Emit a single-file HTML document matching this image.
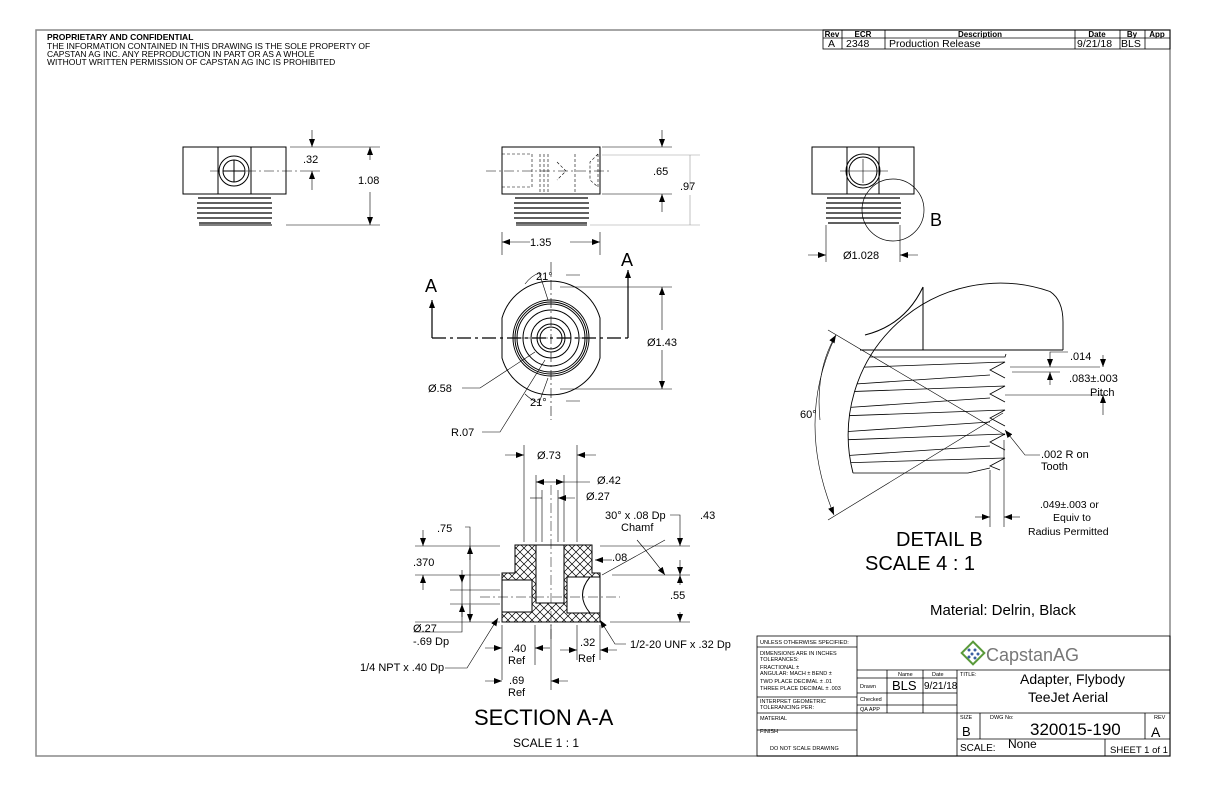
<!DOCTYPE html>
<html><head><meta charset="utf-8"><style>
html,body{margin:0;padding:0;background:#fff}
svg{display:block}
text{font-family:"Liberation Sans",sans-serif;fill:#000}
</style></head><body>
<svg width="1224" height="792" viewBox="0 0 1224 792" xmlns="http://www.w3.org/2000/svg">
<defs>
<pattern id="h" width="8" height="8" patternUnits="userSpaceOnUse"><path d="M0 0L8 8M8 0L0 8" stroke="#000" stroke-width="0.7"/></pattern>
<marker id="a" markerWidth="8" markerHeight="6" refX="8" refY="3" orient="auto" markerUnits="userSpaceOnUse"><path d="M0 0L8 3L0 6z" fill="#000"/></marker>
<clipPath id="dc"><circle cx="1000" cy="435" r="152"/></clipPath>
</defs>
<rect width="1224" height="792" fill="#fff"/>
<rect x="36" y="30" width="1134" height="726" fill="none" stroke="#888" stroke-width="1.5"/>

<g font-size="8.5">
<text x="47" y="40" font-weight="bold">PROPRIETARY AND CONFIDENTIAL</text>
<text x="47" y="49">THE INFORMATION CONTAINED IN THIS DRAWING IS THE SOLE PROPERTY OF</text>
<text x="47" y="57">CAPSTAN AG INC. ANY REPRODUCTION IN PART OR AS A WHOLE</text>
<text x="47" y="65">WITHOUT WRITTEN PERMISSION OF CAPSTAN AG INC IS PROHIBITED</text>
</g>

<g stroke="#000" stroke-width="0.8" fill="none">
<rect x="823" y="30" width="347" height="19"/>
<line x1="823" y1="38" x2="1170" y2="38"/>
<line x1="842" y1="30" x2="842" y2="49"/><line x1="885" y1="30" x2="885" y2="49"/>
<line x1="1075" y1="30" x2="1075" y2="49"/><line x1="1120" y1="30" x2="1120" y2="49"/>
<line x1="1145" y1="30" x2="1145" y2="49"/>
</g>
<g font-size="8" font-weight="bold" text-anchor="middle">
<text x="832" y="37">Rev</text><text x="863" y="37">ECR</text><text x="980" y="37">Description</text>
<text x="1097" y="37">Date</text><text x="1132" y="37">By</text><text x="1157" y="37">App</text></g>
<g font-size="10.5"><text x="828" y="47">A</text><text x="846" y="47">2348</text><text x="889" y="47">Production Release</text><text x="1077" y="47">9/21/18</text><text x="1121" y="47">BLS</text></g>

<g stroke="#000" stroke-width="1" fill="none">
<rect x="183" y="147" width="103" height="47"/>
<line x1="218" y1="147" x2="218" y2="194"/><line x1="251" y1="147" x2="251" y2="194"/>
<circle cx="234" cy="171" r="15"/><circle cx="234" cy="171" r="11"/>
<line x1="223" y1="171" x2="245" y2="171"/><line x1="234" y1="160" x2="234" y2="182"/>
<path d="M210 171H300" stroke-width="0.5" stroke-dasharray="10 3 2 3"/>
<g stroke-width="1.3"><path d="M198 198h73M197 203h75M197 208h75M197 213h75M197 218h75M199 223h72"/></g>
<path d="M199 225h73" />
<g stroke-width="0.6">
<line x1="290" y1="147" x2="380" y2="147"/><line x1="286" y1="225" x2="380" y2="225"/>
<line x1="312" y1="130" x2="312" y2="147" marker-end="url(#a)"/><line x1="312" y1="190" x2="312" y2="171" marker-end="url(#a)"/>
<line x1="300" y1="171" x2="320" y2="171"/>
<line x1="370" y1="160" x2="370" y2="147" marker-end="url(#a)"/><line x1="370" y1="192" x2="370" y2="225" marker-end="url(#a)"/>
</g>

<rect x="502" y="147" width="98" height="47"/>
<g stroke-width="0.6" stroke-dasharray="3 2">
<path d="M502 154H532V187H502M540 154V194M544 154V194M548 154V194M557 162L566 171L557 180M575 154V194M598 154V187M598 154L590 162V180L598 187"/>
</g>
<path d="M486 171H612" stroke-width="0.5" stroke-dasharray="10 3 2 3"/>
<g stroke-width="1.3"><path d="M515 198h73M514 203h75M514 208h75M514 213h75M514 218h75M516 223h71"/></g>
<path d="M516 225h71"/>
<g stroke-width="0.6">
<line x1="602" y1="147" x2="672" y2="147"/><line x1="602" y1="194" x2="672" y2="194"/>
<line x1="662" y1="130" x2="662" y2="147" marker-end="url(#a)"/><line x1="662" y1="212" x2="662" y2="194" marker-end="url(#a)"/>
<g stroke="#999"><line x1="602" y1="155" x2="700" y2="155"/><line x1="590" y1="225" x2="700" y2="225"/>
<line x1="690" y1="190" x2="690" y2="155"/><line x1="690" y1="195" x2="690" y2="225"/></g>
<line x1="502" y1="232" x2="502" y2="255"/><line x1="600" y1="232" x2="600" y2="255"/>
<line x1="530" y1="242" x2="502" y2="242" marker-end="url(#a)"/><line x1="570" y1="242" x2="600" y2="242" marker-end="url(#a)"/>
</g>

<path d="M502 318 A51 51 0 0 1 600 318 V358 A51 51 0 0 1 502 358 Z"/>
<circle cx="551" cy="338" r="38"/><circle cx="551" cy="338" r="36"/><circle cx="551" cy="338" r="34"/>
<circle cx="551" cy="338" r="28"/><circle cx="551" cy="338" r="20"/><circle cx="551" cy="338" r="14"/><circle cx="551" cy="338" r="11"/>
<g stroke-width="0.6">
<path d="M551 262V420M520 338H582" stroke-dasharray="10 3 2 3"/>
<path d="M432 338H628" stroke-width="1.2" stroke-dasharray="14 4 3 4"/>
<path d="M432 338V300" stroke-width="1.2" marker-end="url(#a)"/><path d="M628 338V270" stroke-width="1.2" marker-end="url(#a)"/>
<line x1="560" y1="287" x2="672" y2="287"/><line x1="560" y1="389" x2="672" y2="389"/>
<line x1="662" y1="330" x2="662" y2="287" marker-end="url(#a)"/><line x1="662" y1="350" x2="662" y2="389" marker-end="url(#a)"/>
<path d="M539 272L548 300M525 284 Q531 276 539 273M566 275H580"/>
<path d="M539 403L548 378M525 394 Q531 400 539 403M566 401H580"/>
<path d="M462 388H480L535 352M482 432H500L545 360"/>
</g>

<rect x="812" y="147" width="102" height="47"/>
<line x1="847" y1="147" x2="847" y2="194"/><line x1="879" y1="147" x2="879" y2="194"/>
<circle cx="863" cy="171" r="17"/><circle cx="863" cy="171" r="14"/>
<path d="M840 171H888M863 159V183" stroke-width="0.6"/>
<g stroke-width="1.3"><path d="M827 198h73M826 203h75M826 208h75M826 213h75M826 218h75M828 223h71"/></g>
<circle cx="893" cy="210" r="31" stroke-width="0.7"/>
<g stroke-width="0.6">
<line x1="826" y1="225" x2="826" y2="262"/><line x1="900" y1="225" x2="900" y2="262"/>
<line x1="808" y1="255" x2="826" y2="255" marker-end="url(#a)"/><line x1="918" y1="255" x2="900" y2="255" marker-end="url(#a)"/>
</g>

<path d="M853 473 A152 152 0 0 1 1050 291.5 Q1063 300 1063 322 V350" stroke-width="0.9"/>
<path d="M1063 350H860M923 350V287M865 335 Q905 325 923 287"/>
<g stroke-width="0.8" clip-path="url(#dc)">
<path d="M840 357H1005L1006 354"/>
<path d="M840 368L1005 362 990 370 1005 378"/>
<path d="M840 385L990 375M840 392L1005 386 990 394 1005 402"/>
<path d="M840 408L990 398M840 416L1005 410 990 418 1005 426"/>
<path d="M840 432L990 422M840 440L1005 434 990 442 1005 450"/>
<path d="M840 456L990 446M840 463L1005 458 990 466 1000 470"/>
<path d="M840 473H968L990 468"/>
</g>
<g stroke-width="0.6">
<line x1="828" y1="330" x2="1005" y2="435"/><line x1="828" y1="520" x2="1003" y2="413"/>
<path d="M836 335 Q795 420 834 515" marker-end="url(#a)"/><path d="M820 420 Q815 370 836 335" marker-end="url(#a)"/>
<path d="M1010 367H1100M1012 372H1060M1005 395H1105"/>
<line x1="1050" y1="357" x2="1050" y2="367" marker-end="url(#a)"/><line x1="1050" y1="385" x2="1050" y2="372" marker-end="url(#a)"/>
<path d="M1050 357V352H1068"/>
<line x1="1103" y1="355" x2="1103" y2="367" marker-end="url(#a)"/><line x1="1103" y1="415" x2="1103" y2="395" marker-end="url(#a)"/>
<path d="M1040 455H1025L1005 430" marker-end="url(#a)"/>
<path d="M990 470V527M1004 440V527"/>
<line x1="975" y1="517" x2="990" y2="517" marker-end="url(#a)"/><line x1="1020" y1="517" x2="1004" y2="517" marker-end="url(#a)"/>
</g>

<path d="M502 573H515V545H592V573H600V622H502Z" fill="url(#h)" stroke="none"/>
<path d="M502 573H515V545H592V573H600V622H502Z"/>
<rect x="536" y="545" width="28" height="58" fill="#fff"/>
<path d="M536 545V603H564V545"/>
<path d="M502 580H532V612H502Z" fill="#fff"/>
<path d="M532 580V612 M502 580H532 M502 612H532"/>
<path d="M567 577H600V613H567Z" fill="#fff"/>
<path d="M567 577V613H600M567 577H600 M590 577 Q575 595 590 613"/>
<path d="M551 485V640" stroke-width="0.5" stroke-dasharray="10 3 2 3"/>
<path d="M480 597H620" stroke-width="0.5" stroke-dasharray="10 3 2 3"/>
<g stroke-width="0.6">
<path d="M524 445V542M577 445V542M536 475V542M564 475V542M542 490V542M558 490V542"/>
<line x1="505" y1="455" x2="524" y2="455" marker-end="url(#a)"/><line x1="596" y1="455" x2="577" y2="455" marker-end="url(#a)"/>
<line x1="548" y1="482" x2="536" y2="482" marker-end="url(#a)"/><line x1="548" y1="482" x2="564" y2="482" marker-end="url(#a)"/><path d="M564 482H590"/>
<line x1="575" y1="498" x2="558" y2="498" marker-end="url(#a)"/><path d="M542 498H530"/>
<path d="M415 546H500M415 575H500M450 590H500M450 604H500M415 622H500"/>
<line x1="423" y1="530" x2="423" y2="546" marker-end="url(#a)"/><line x1="423" y1="590" x2="423" y2="575" marker-end="url(#a)"/>
<path d="M465 527H470V622"/><line x1="470" y1="560" x2="470" y2="546" marker-end="url(#a)"/><line x1="470" y1="605" x2="470" y2="622" marker-end="url(#a)"/>
<path d="M415 632H462V583"/><line x1="462" y1="570" x2="462" y2="583" marker-end="url(#a)"/><line x1="462" y1="617" x2="462" y2="604" marker-end="url(#a)"/>
<path d="M600 546H690M612 575H690M610 622H690"/>
<line x1="680" y1="525" x2="680" y2="546" marker-end="url(#a)"/><line x1="680" y1="560" x2="680" y2="575" marker-end="url(#a)"/>
<path d="M670 515H680V525"/>
<line x1="680" y1="585" x2="680" y2="575" marker-end="url(#a)"/><line x1="680" y1="612" x2="680" y2="622" marker-end="url(#a)"/>
<path d="M637 540 Q650 555 665 575" marker-end="url(#a)"/>
<line x1="605" y1="560" x2="595" y2="560" marker-end="url(#a)"/><line x1="605" y1="560" x2="612" y2="560"/>
<path d="M602 575L665 540"/>
<path d="M445 668H467L498 618" marker-end="url(#a)"/>
<path d="M626 644H615L600 620" marker-end="url(#a)"/>
<path d="M502 625V680M535 625V665M551 625V690M577 625V660M600 625V660"/>
<line x1="485" y1="648" x2="502" y2="648" marker-end="url(#a)"/><line x1="550" y1="648" x2="535" y2="648" marker-end="url(#a)"/>
<line x1="485" y1="681" x2="502" y2="681" marker-end="url(#a)"/><line x1="568" y1="681" x2="551" y2="681" marker-end="url(#a)"/>
<line x1="560" y1="650" x2="577" y2="650" marker-end="url(#a)"/><line x1="617" y1="650" x2="600" y2="650" marker-end="url(#a)"/>
</g>
</g>

<g font-size="11">
<text x="303" y="163">.32</text><text x="358" y="184">1.08</text>
<text x="653" y="175">.65</text><text x="680" y="190" fill="#888">.97</text>
<text x="530" y="246">1.35</text>
<text x="536" y="280">21°</text><text x="530" y="406">21°</text>
<text x="647" y="346">Ø1.43</text>
<text x="428" y="392">Ø.58</text><text x="451" y="436">R.07</text>
<text x="843" y="259">Ø1.028</text>
<text x="1070" y="360">.014</text><text x="1069" y="382">.083±.003</text><text x="1090" y="396">Pitch</text>
<text x="800" y="418">60°</text>
<text x="1041" y="458">.002 R on</text><text x="1041" y="470">Tooth</text>
<text x="1040" y="508" font-size="10.5">.049±.003 or</text><text x="1053" y="521" font-size="10.5">Equiv to</text><text x="1028" y="535" font-size="10.5">Radius Permitted</text>
<text x="537" y="459">Ø.73</text><text x="597" y="484">Ø.42</text><text x="586" y="500">Ø.27</text>
<text x="605" y="519">30° x .08 Dp</text><text x="621" y="531">Chamf</text>
<text x="700" y="519">.43</text><text x="437" y="532">.75</text><text x="612" y="561">.08</text>
<text x="413" y="566">.370</text><text x="670" y="599">.55</text>
<text x="413" y="632">Ø.27</text><text x="413" y="645">-.69 Dp</text>
<text x="360" y="671">1/4 NPT x .40 Dp</text><text x="630" y="648">1/2-20 UNF x .32 Dp</text>
<text x="511" y="652">.40</text><text x="508" y="664">Ref</text>
<text x="580" y="646">.32</text><text x="578" y="662">Ref</text>
<text x="509" y="684">.69</text><text x="508" y="696">Ref</text>
</g>
<g font-size="18"><text x="425" y="292">A</text><text x="621" y="266">A</text><text x="930" y="226">B</text></g>
<text x="474" y="725" font-size="22">SECTION A-A</text>
<text x="513" y="747" font-size="12">SCALE 1 : 1</text>
<text x="896" y="546" font-size="20">DETAIL B</text>
<text x="865" y="570" font-size="20">SCALE 4 : 1</text>
<text x="930" y="615" font-size="15">Material: Delrin, Black</text>

<g stroke="#000" stroke-width="0.8" fill="none">
<rect x="757" y="636" width="413" height="120"/>
<line x1="857" y1="636" x2="857" y2="756"/><line x1="957" y1="670" x2="957" y2="756"/>
<line x1="857" y1="670" x2="1170" y2="670"/>
<line x1="757" y1="647" x2="857" y2="647"/><line x1="757" y1="697" x2="857" y2="697"/>
<line x1="757" y1="713" x2="957" y2="713"/><line x1="757" y1="730" x2="857" y2="730"/>
<line x1="857" y1="678" x2="957" y2="678"/><line x1="857" y1="693" x2="957" y2="693"/><line x1="857" y1="705" x2="957" y2="705"/>
<line x1="887" y1="670" x2="887" y2="713"/><line x1="923" y1="670" x2="923" y2="713"/>
<line x1="957" y1="713" x2="1170" y2="713"/><line x1="957" y1="739" x2="1170" y2="739"/>
<line x1="980" y1="713" x2="980" y2="739"/><line x1="1145" y1="713" x2="1145" y2="739"/>
<line x1="1105" y1="739" x2="1105" y2="756"/>
</g>
<g font-size="5.5">
<text x="760" y="644">UNLESS OTHERWISE SPECIFIED:</text>
<text x="760" y="655">DIMENSIONS ARE IN INCHES</text><text x="760" y="661">TOLERANCES:</text>
<text x="760" y="669">FRACTIONAL ±</text><text x="760" y="675">ANGULAR: MACH ±   BEND ±</text>
<text x="760" y="683">TWO PLACE DECIMAL   ±  .01</text><text x="760" y="690">THREE PLACE DECIMAL  ±  .003</text>
<text x="760" y="703">INTERPRET GEOMETRIC</text><text x="760" y="709">TOLERANCING PER:</text>
<text x="760" y="720">MATERIAL</text><text x="760" y="733">FINISH</text>
<text x="770" y="750">DO NOT SCALE DRAWING</text>
<text x="860" y="688">Drawn</text><text x="860" y="701">Checked</text><text x="860" y="711">QA APP</text>
<text x="898" y="676">Name</text><text x="932" y="676">Date</text>
<text x="960" y="676">TITLE:</text><text x="960" y="719">SIZE</text><text x="990" y="719">DWG No:</text><text x="1154" y="719">REV</text>
</g>
<text x="892" y="690" font-size="13">BLS</text><text x="924" y="689" font-size="10">9/21/18</text>
<g transform="translate(973,653) rotate(45)" stroke="#5a9a3a" fill="none" stroke-width="2"><rect x="-8" y="-8" width="16" height="16"/></g>
<g fill="#3a5fa0"><circle cx="969" cy="650" r="1.5"/><circle cx="975" cy="650" r="1.5"/><circle cx="972" cy="654" r="1.5"/><circle cx="978" cy="654" r="1.5"/><circle cx="969" cy="657" r="1.5"/><circle cx="975" cy="658" r="1.5"/></g>
<text x="986" y="661" font-size="18" style="fill:#777">CapstanAG</text>
<text x="1020" y="684" font-size="14">Adapter, Flybody</text>
<text x="1028" y="702" font-size="14">TeeJet Aerial</text>
<text x="1030" y="735" font-size="17">320015-190</text>
<text x="962" y="736" font-size="13">B</text><text x="1151" y="737" font-size="14">A</text>
<text x="960" y="751" font-size="10">SCALE:</text><text x="1008" y="748" font-size="12">None</text>
<text x="1110" y="753" font-size="9.5">SHEET 1 of 1</text>
</svg>
</body></html>
